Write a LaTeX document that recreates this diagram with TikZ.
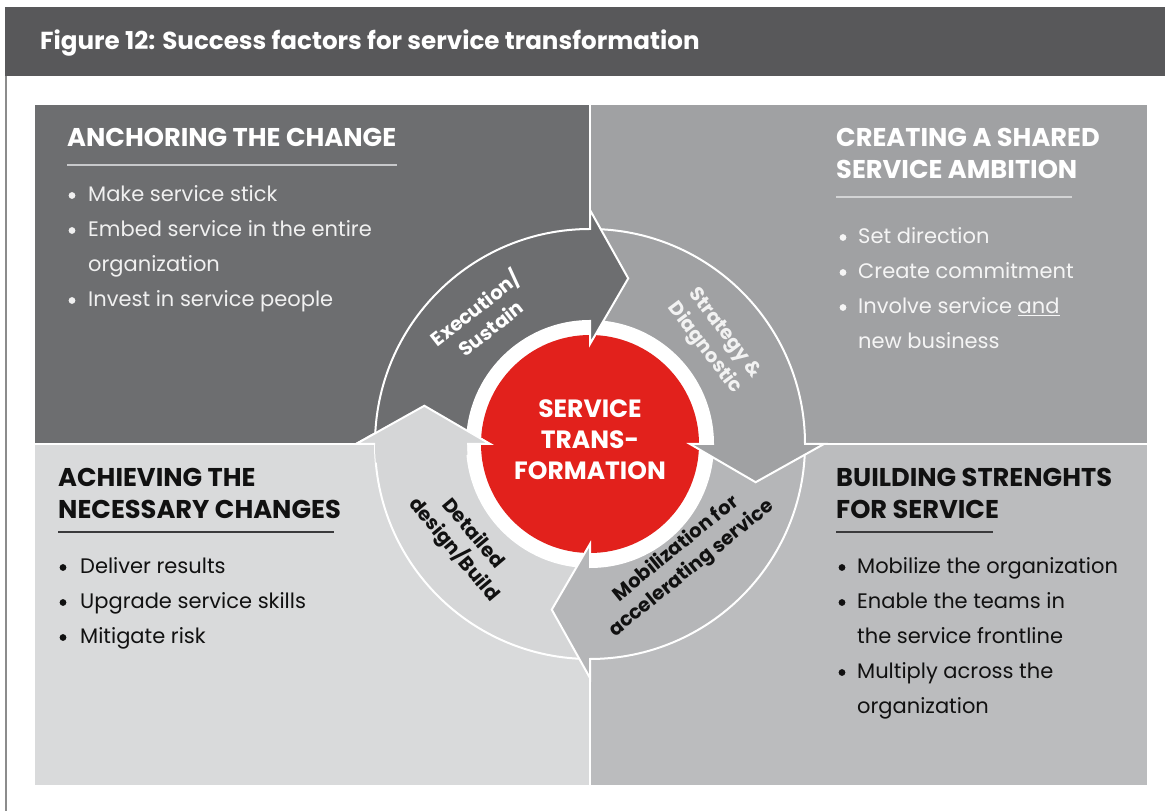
\documentclass[tikz,border=0pt]{standalone}
\usepackage{fontspec}
\setmainfont{Poppins}
\definecolor{hdr}{HTML}{58585A}
\definecolor{qtl}{HTML}{6D6E70}
\definecolor{qtr}{HTML}{A0A1A3}
\definecolor{qbr}{HTML}{BBBCBE}
\definecolor{qbl}{HTML}{D9DADB}
\definecolor{athree}{HTML}{B5B6B8}
\definecolor{afour}{HTML}{D5D6D7}
\definecolor{tred}{HTML}{E2211C}
\definecolor{lightul}{HTML}{C8C9CB}
\definecolor{darkul}{HTML}{3A3A3C}
\definecolor{txtdark}{HTML}{111111}
\newcommand\hdfont{\bfseries\fontsize{25.7}{32}\selectfont}
\newcommand\blfont{\fontsize{21}{35}\selectfont}
\newcommand\lbfont{\bfseries\fontsize{19.5}{25}\selectfont}
\newcommand\sarrow[2]{%
  \fill[#2, draw=white, line width=2pt]
    ({#1+90}:123pt) arc[start angle={#1+90}, end angle={#1}, radius=123pt]
    -- ({#1}:100pt) -- ({#1-13}:170pt) -- ({#1}:234pt) -- ({#1}:215pt)
    arc[start angle={#1}, end angle={#1+90}, radius=215pt] -- cycle;}
\begin{document}
\begin{tikzpicture}[x=1pt,y=1pt,
  hd/.style={anchor=base west, inner sep=0pt, font=\hdfont},
  bl/.style={anchor=base west, inner sep=0pt, font=\blfont},
  lbl/.style={inner sep=0pt, align=center, font=\lbfont},
  ul/.style={line width=1.5pt},
  dot/.style={circle, inner sep=0pt, minimum size=6.8pt}]
\useasboundingbox (0,0) rectangle (1165,811);
\fill[white] (0,0) rectangle (1165,811);
% header
\fill[hdr] (5,804) rectangle (1165,735);
\node[anchor=base west, inner sep=0pt, text=white, font=\bfseries\fontsize{24.6}{28}\selectfont] (title) at (40,761) {Figure 12: Success factors for service transformation};
\draw[color=black!45, line width=1.5pt] (5.75,735) -- (5.75,0);
% quadrants
\fill[qtl] (35,368) rectangle (589,706);
\fill[qtr] (591,368) rectangle (1147,706);
\fill[qbl] (35,26) rectangle (589,366);
\fill[qbr] (591,26) rectangle (1147,366);
% top-left text
\node[hd, text=white] (hTL) at (67,664) {ANCHORING THE CHANGE};
\draw[ul, lightul] (67,646) -- (397,646);
\node[bl, text=white!94!black] (bTL) at (88,609) {\begin{tabular}[t]{@{}l@{}}
Make service stick\\
Embed service in the entire\\
organization\\
Invest in service people
\end{tabular}};
\foreach \yy [count=\i] in {609,574,504}
  \node[dot, fill=white!94!black] (dTL\i) at (72,\yy+6.5) {};
% top-right text
\node[hd, text=white] (hTR) at (836,664) {\begin{tabular}[t]{@{}l@{}}CREATING A SHARED\\SERVICE AMBITION\end{tabular}};
\draw[ul, lightul!80!white] (836,614) -- (1072,614);
\node[bl, text=white!96!black] (bTR) at (858,567) {\begin{tabular}[t]{@{}l@{}}
Set direction\\
Create commitment\\
Involve service \underline{and}\\
new business
\end{tabular}};
\foreach \yy [count=\i] in {567,532,497}
  \node[dot, fill=white!96!black] (dTR\i) at (843,\yy+6.5) {};
% bottom-left text
\node[hd, text=txtdark] (hBL) at (58,324) {\begin{tabular}[t]{@{}l@{}}ACHIEVING THE\\NECESSARY CHANGES\end{tabular}};
\draw[ul, darkul] (58,279) -- (334,279);
\node[bl, text=txtdark] (bBL) at (80,237) {\begin{tabular}[t]{@{}l@{}}
Deliver results\\
Upgrade service skills\\
Mitigate risk
\end{tabular}};
\foreach \yy [count=\i] in {237,202,167}
  \node[dot, fill=txtdark] (dBL\i) at (63,\yy+6.5) {};
% bottom-right text
\node[hd, text=txtdark] (hBR) at (836,324) {\begin{tabular}[t]{@{}l@{}}BUILDING STRENGHTS\\FOR SERVICE\end{tabular}};
\draw[ul, darkul] (836,279) -- (993,279);
\node[bl, text=txtdark] (bBR) at (857,237) {\begin{tabular}[t]{@{}l@{}}
Mobilize the organization\\
Enable the teams in\\
the service frontline\\
Multiply across the\\
organization
\end{tabular}};
\foreach \yy [count=\i] in {237,202,132}
  \node[dot, fill=txtdark] (dBR\i) at (842,\yy+6.5) {};
% cycle
\node[circle, fill=white, inner sep=0pt, minimum size=248pt] (ring) at (590,367) {};
\node[circle, fill=tred, inner sep=0pt, minimum size=218pt] (core) at (590,367) {};
\begin{scope}[shift={(590,367)}]
  \sarrow{180}{afour}
  \sarrow{270}{athree}
  \sarrow{0}{qtr}
  \sarrow{90}{qtl}
  % head of the last arrow over the first one
  \fill[afour] (185:123pt) arc[start angle=185, end angle=180, radius=123pt]
    -- (180:100pt) -- (167:170pt) -- (180:234pt) -- (180:215pt)
    arc[start angle=180, end angle=185, radius=215pt] -- cycle;
  \draw[white, line width=2pt] (180:123pt) -- (180:100pt) -- (167:170pt) -- (180:234pt) -- (180:215pt);
\end{scope}
\node[lbl, text=white, rotate=38] (lexec) at (482,494) {Execution/\\Sustain};
\node[lbl, text=white!95!black, rotate=-53] (lstrat) at (714,470) {Strategy \&\\Diagnostic};
\node[lbl, text=txtdark, rotate=39] (lmob) at (684,252) {Mobilization for\\accelerating service};
\node[lbl, text=txtdark, rotate=-50] (ldet) at (463,269) {Detailed\\design/Build};
\node[inner sep=0pt, align=center, text=white, font=\bfseries\fontsize{25}{31}\selectfont] (center) at (590,371) {SERVICE\\TRANS-\\FORMATION};
\end{tikzpicture}
\end{document}
